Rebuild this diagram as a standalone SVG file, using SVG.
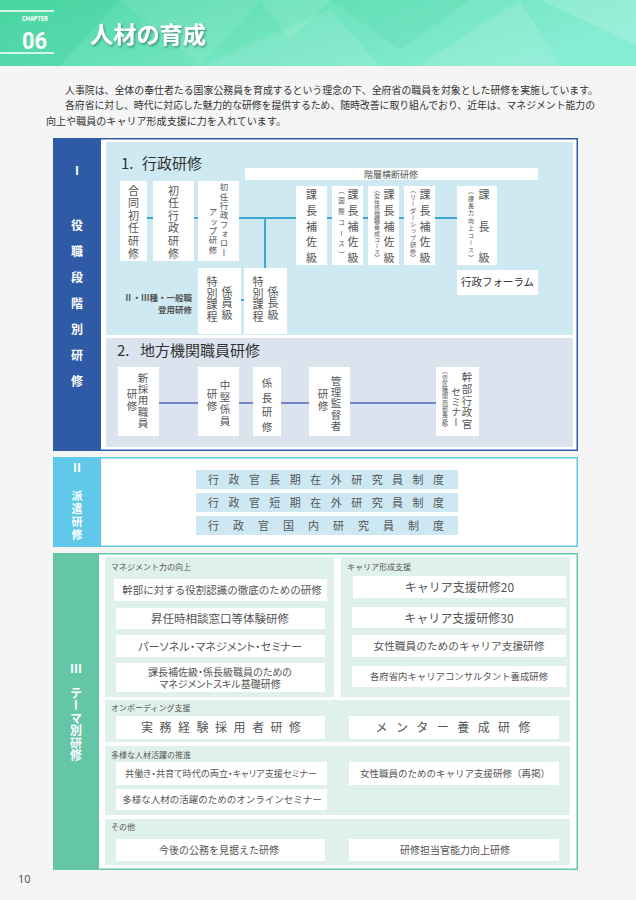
<svg xmlns="http://www.w3.org/2000/svg" width="636" height="900" viewBox="0 0 636 900">
<defs>
<linearGradient id="hg" x1="0" y1="0" x2="1" y2="0.3">
<stop offset="0" stop-color="#4fd8a6"/>
<stop offset="0.5" stop-color="#6de3bd"/>
<stop offset="1" stop-color="#86ecd2"/>
</linearGradient>
<filter id="sh" x="-10%" y="-20%" width="130%" height="150%">
<feDropShadow dx="1.2" dy="1.5" stdDeviation="0.8" flood-color="#1e5a48" flood-opacity="0.6"/>
</filter>
</defs>
<style>
text{font-family:"Noto Sans CJK JP","Noto Sans",sans-serif;fill:#555;}
.v{writing-mode:vertical-rl;}
.w{fill:#fff;}
.bar{fill:#fff;font-size:12px;font-weight:bold;text-anchor:middle;}
.box{fill:#fff;}
.h{font-size:15px;fill:#333;}
.lab{font-size:8px;fill:#555;}
.m{text-anchor:middle;}
.p{font-feature-settings:"palt";}
.c1{stroke:#3ea9d7;stroke-width:2;fill:none;}
.c2{stroke:#7284c8;stroke-width:2;fill:none;}
</style>
<rect x="0" y="0" width="636" height="900" fill="#f5f5f5"/>
<g id="header">
<rect x="0" y="0" width="636" height="66" fill="url(#hg)"/>
<polygon points="0,0 120,0 60,66 0,66" fill="#3fcf9c" opacity="0.35"/>
<polygon points="120,0 260,0 200,66" fill="#ffffff" opacity="0.08"/>
<polygon points="200,66 330,10 380,66" fill="#ffffff" opacity="0.1"/>
<polygon points="330,0 470,0 400,50" fill="#3fcf9c" opacity="0.15"/>
<polygon points="420,66 520,0 560,66" fill="#ffffff" opacity="0.12"/>
<polygon points="540,0 636,0 636,45" fill="#ffffff" opacity="0.15"/>
<polygon points="260,0 330,0 290,40" fill="#ffffff" opacity="0.1"/>
<line x1="0" y1="11" x2="54" y2="11" stroke="#fff" stroke-width="1.5"/>
<line x1="0" y1="53" x2="54" y2="53" stroke="#fff" stroke-width="1.5"/>
<text x="22" y="21" class="w" style="font-family:Roboto,sans-serif;font-size:7.5px;font-weight:bold" textLength="26" lengthAdjust="spacingAndGlyphs">CHAPTER</text>
<text x="22" y="48.5" class="w" style="font-family:Roboto,sans-serif;font-size:24px;font-weight:bold" textLength="25" lengthAdjust="spacingAndGlyphs">06</text>
<text x="90" y="43" class="w" filter="url(#sh)" style="font-size:23px;font-weight:bold" textLength="116" lengthAdjust="spacingAndGlyphs">人材の育成</text>
</g>
<g id="intro" style="font-size:10px">
<text x="65" y="94" style="fill:#333" textLength="533" lengthAdjust="spacingAndGlyphs">人事院は、全体の奉仕者たる国家公務員を育成するという理念の下、全府省の職員を対象とした研修を実施しています。</text>
<text x="65" y="109" style="fill:#333" textLength="530" lengthAdjust="spacingAndGlyphs">各府省に対し、時代に対応した魅力的な研修を提供するため、随時改善に取り組んでおり、近年は、マネジメント能力の</text>
<text x="46" y="125" style="fill:#333" textLength="240" lengthAdjust="spacingAndGlyphs">向上や職員のキャリア形成支援に力を入れています。</text>
</g>
<g id="section1">
<rect x="53.75" y="138.75" width="523.5" height="311.5" fill="#fff" stroke="#2f5aa6" stroke-width="1.5"/>
<rect x="53" y="138" width="48" height="313" fill="#2f5aa6"/>
<text x="77" y="175" class="bar">Ⅰ</text>
<text x="77" y="230" class="bar">役</text>
<text x="77" y="256" class="bar">職</text>
<text x="77" y="282" class="bar">段</text>
<text x="77" y="308" class="bar">階</text>
<text x="77" y="334" class="bar">別</text>
<text x="77" y="360" class="bar">研</text>
<text x="77" y="386" class="bar">修</text>
<rect x="106" y="142" width="467" height="193" fill="#cee9f1"/>
<rect x="106" y="338" width="467" height="109" fill="#dae3ee"/>
<text x="121" y="169" class="h">1.<tspan x="142">行政研修</tspan></text>
<text x="117" y="356" class="h">2.<tspan x="140">地方機関職員研修</tspan></text>
</g>
<g id="n-kaisou">
<rect x="245" y="168" width="293" height="12" class="box"/>
<text x="391" y="177.5" class="m" style="font-size:9px">階層横断研修</text>
</g>
<g id="connectors">
<line x1="147" y1="218" x2="153" y2="218" class="c1"/>
<line x1="194" y1="218" x2="198" y2="218" class="c1"/>
<line x1="239" y1="218" x2="296" y2="218" class="c1"/>
<line x1="265" y1="218" x2="265" y2="268" class="c1"/>
<line x1="241" y1="300" x2="244" y2="300" class="c1"/>
<line x1="327" y1="218" x2="332" y2="218" class="c1"/>
<line x1="363" y1="218" x2="368" y2="218" class="c1"/>
<line x1="399" y1="218" x2="404" y2="218" class="c1"/>
<line x1="435" y1="218" x2="457" y2="218" class="c1"/>
<line x1="159" y1="403" x2="198" y2="403" class="c2"/>
<line x1="239" y1="403" x2="253" y2="403" class="c2"/>
<line x1="281" y1="403" x2="309" y2="403" class="c2"/>
<line x1="350" y1="403" x2="436" y2="403" class="c2"/>
</g>
<g id="n-goudou">
<rect x="120" y="181" width="27" height="80" class="box"/>
<text x="133.5" y="185" class="v" style="font-size:11px;letter-spacing:1.6px">合同初任研修</text>
</g>
<g id="n-shonin">
<rect x="153" y="181" width="41" height="80" class="box"/>
<text x="173.5" y="185" class="v" style="font-size:11px;letter-spacing:1.6px">初任行政研修</text>
</g>
<g id="n-follow">
<rect x="198" y="181" width="41" height="80" class="box"/>
<text x="224" y="183" class="v" style="font-size:8.5px;letter-spacing:0.8px">初任行政フォロー</text>
<text x="213" y="208" class="v" style="font-size:8.5px;letter-spacing:0.8px">アップ研修</text>
</g>
<g id="n-kakariin">
<rect x="198" y="268" width="43" height="66" class="box"/>
<text x="227" y="286" class="v" style="font-size:11px;letter-spacing:0.5px">係員級</text>
<text x="212" y="276.5" class="v" style="font-size:11px;letter-spacing:0.5px">特別課程</text>
</g>
<g id="n-kakaricho">
<rect x="244" y="268" width="43" height="66" class="box"/>
<text x="273" y="286" class="v" style="font-size:11px;letter-spacing:0.5px">係長級</text>
<text x="258" y="276.5" class="v" style="font-size:11px;letter-spacing:0.5px">特別課程</text>
</g>
<g id="n-toyo">
<text x="192" y="301" style="font-size:8.5px;font-weight:bold;text-anchor:end">Ⅱ・Ⅲ種・一般職</text>
<text x="192" y="313" style="font-size:8.5px;font-weight:bold;text-anchor:end">登用研修</text>
</g>
<g id="n-hosa1">
<rect x="296" y="186" width="31" height="79" class="box"/>
<text x="311.5" y="189.5" class="v" style="font-size:11px;letter-spacing:4.7px">課長補佐級</text>
</g>
<g id="n-hosa2">
<rect x="332" y="186" width="31" height="79" class="box"/>
<text x="353" y="189.5" class="v" style="font-size:11px;letter-spacing:4.7px">課長補佐級</text>
<text x="341.5" y="187" class="v" style="font-size:6.5px;letter-spacing:4.2px">（国際コース）</text>
</g>
<g id="n-hosa3">
<rect x="368" y="186" width="31" height="79" class="box"/>
<text x="389" y="189.5" class="v" style="font-size:11px;letter-spacing:4.7px">課長補佐級</text>
<text x="377" y="187" class="v" style="font-size:6px;letter-spacing:0.2px">（女性管理職養成コース）</text>
</g>
<g id="n-hosa4">
<rect x="404" y="186" width="31" height="79" class="box"/>
<text x="425" y="189.5" class="v" style="font-size:11px;letter-spacing:4.7px">課長補佐級</text>
<text x="413" y="187" class="v" style="font-size:6.2px;letter-spacing:0.6px">（リーダーシップ研修）</text>
</g>
<g id="n-kacho">
<rect x="457" y="186" width="40" height="79" class="box"/>
<text x="484" y="189.5" class="v" style="font-size:11px;letter-spacing:20.5px">課長級</text>
<text x="471" y="188" class="v" style="font-size:6px;letter-spacing:1.4px">（課長力向上コース）</text>
</g>
<g id="n-forum">
<rect x="457" y="270" width="81" height="25" class="box"/>
<text x="497.5" y="286" class="m" style="font-size:10.5px;fill:#333">行政フォーラム</text>
</g>
<g id="n-shinsai">
<rect x="118" y="367" width="41" height="69" class="box"/>
<text x="143" y="372.5" class="v" style="font-size:10.5px;letter-spacing:0.8px">新採用職員</text>
<text x="132" y="389" class="v" style="font-size:10.5px;letter-spacing:0.8px">研修</text>
</g>
<g id="n-chuken">
<rect x="198" y="367" width="41" height="69" class="box"/>
<text x="225" y="379.5" class="v" style="font-size:10.5px;letter-spacing:1.5px">中堅係員</text>
<text x="212" y="389" class="v" style="font-size:10.5px;letter-spacing:0.8px">研修</text>
</g>
<g id="n-kakaricho2">
<rect x="253" y="367" width="28" height="69" class="box"/>
<text x="267" y="378" class="v" style="font-size:10.5px;letter-spacing:4px">係長研修</text>
</g>
<g id="n-kanri">
<rect x="309" y="367" width="41" height="69" class="box"/>
<text x="336" y="375.5" class="v" style="font-size:10.5px;letter-spacing:0.8px">管理監督者</text>
<text x="323" y="389" class="v" style="font-size:10.5px;letter-spacing:0.8px">研修</text>
</g>
<g id="n-kanbu">
<rect x="436" y="367" width="43" height="69" class="box"/>
<text x="467" y="372" class="v" style="font-size:10.5px;letter-spacing:1.2px">幹部行政官</text>
<text x="456" y="387" class="v" style="font-size:10px;letter-spacing:0px">セミナー</text>
<text x="445" y="368" class="v" style="font-size:6px;letter-spacing:0.3px">（管区機関局部長級）</text>
</g>
<g id="section2">
<rect x="53.75" y="457.75" width="523.5" height="88.5" fill="#fff" stroke="#60c8e8" stroke-width="1.5"/>
<rect x="53" y="457" width="48" height="90" fill="#60c8e8"/>
<text x="77" y="472" class="bar">Ⅱ</text>
<text x="77" y="490" class="v" style="fill:#fff;font-size:11px;font-weight:bold;letter-spacing:2px">派遣研修</text>
</g>
<g id="n-chouki">
<rect x="196" y="470" width="262" height="19" fill="#cde8f2"/>
<text x="208" y="483.5" style="font-size:11px" textLength="236" lengthAdjust="spacing">行政官長期在外研究員制度</text>
</g>
<g id="n-tanki">
<rect x="196" y="493" width="262" height="19" fill="#cde8f2"/>
<text x="208" y="506.5" style="font-size:11px" textLength="236" lengthAdjust="spacing">行政官短期在外研究員制度</text>
</g>
<g id="n-kokunai">
<rect x="196" y="516" width="262" height="19" fill="#cde8f2"/>
<text x="208" y="529.5" style="font-size:11px" textLength="236" lengthAdjust="spacing">行政官国内研究員制度</text>
</g>
<g id="section3">
<rect x="53.75" y="553.75" width="523.5" height="315.5" fill="#fff" stroke="#64c6a6" stroke-width="1.5"/>
<rect x="53" y="553" width="46" height="317" fill="#64c6a6"/>
<text x="76" y="673" class="bar">Ⅲ</text>
<text x="76" y="687" class="v" style="fill:#fff;font-size:12px;font-weight:bold;letter-spacing:0.5px">テーマ別研修</text>
<rect x="105" y="557" width="229" height="140" fill="#e0f0eb"/>
<rect x="341" y="557" width="229" height="140" fill="#e0f0eb"/>
<rect x="105" y="700" width="465" height="42" fill="#e0f0eb"/>
<rect x="105" y="746" width="465" height="69" fill="#e0f0eb"/>
<rect x="105" y="819" width="465" height="46" fill="#e0f0eb"/>
<text x="111" y="570" class="lab">マネジメント力の向上</text>
<text x="347" y="570" class="lab">キャリア形成支援</text>
<text x="111" y="711" class="lab">オンボーディング支援</text>
<text x="111" y="758" class="lab">多様な人材活躍の推進</text>
<text x="111" y="830" class="lab">その他</text>
</g>
<g id="n-kanbuyakuwari">
<rect x="114" y="579" width="213" height="22" class="box"/>
<text x="222" y="594" class="m" style="font-size:10.5px">幹部に対する役割認識の徹底のための研修</text>
</g>
<g id="n-shonin-soudan">
<rect x="116" y="608" width="209" height="21" class="box"/>
<text x="220" y="623" class="m" style="font-size:11.5px">昇任時相談窓口等体験研修</text>
</g>
<g id="n-personnel">
<rect x="116" y="635" width="209" height="22" class="box"/>
<text x="220" y="650.5" class="m p" style="font-size:11px" textLength="164" lengthAdjust="spacingAndGlyphs">パーソネル・マネジメント・セミナー</text>
</g>
<g id="n-skill">
<rect x="116" y="663" width="209" height="29" class="box"/>
<text class="m p" style="font-size:10px"><tspan x="220" y="675.5">課長補佐級・係長級職員のための</tspan><tspan x="220" y="688">マネジメントスキル基礎研修</tspan></text>
</g>
<g id="n-career20">
<rect x="353" y="576" width="213" height="22" class="box"/>
<text x="459.5" y="592" class="m" style="font-size:12px">キャリア支援研修20</text>
</g>
<g id="n-career30">
<rect x="352" y="607" width="214" height="21" class="box"/>
<text x="459" y="622.5" class="m" style="font-size:12px">キャリア支援研修30</text>
</g>
<g id="n-josei">
<rect x="352" y="635" width="214" height="22" class="box"/>
<text x="459" y="650" class="m" style="font-size:10.7px">女性職員のためのキャリア支援研修</text>
</g>
<g id="n-consul">
<rect x="352" y="666" width="214" height="21" class="box"/>
<text x="459" y="680" class="m" style="font-size:9.4px">各府省内キャリアコンサルタント養成研修</text>
</g>
<g id="n-jitsumu">
<rect x="116" y="716" width="209" height="23" class="box"/>
<text x="221" y="732" class="m" style="font-size:12px" textLength="160" lengthAdjust="spacing">実務経験採用者研修</text>
</g>
<g id="n-mentor">
<rect x="349" y="716" width="210" height="23" class="box"/>
<text x="453" y="732" class="m" style="font-size:12px" textLength="155" lengthAdjust="spacing">メンター養成研修</text>
</g>
<g id="n-tomobataraki">
<rect x="116" y="762" width="211" height="23" class="box"/>
<text x="221" y="776.5" class="m p" style="font-size:8.8px" textLength="192" lengthAdjust="spacingAndGlyphs">共働き・共育て時代の両立・キャリア支援セミナー</text>
</g>
<g id="n-online">
<rect x="116" y="789" width="211" height="21" class="box"/>
<text x="222" y="803" class="m" style="font-size:9.5px">多様な人材の活躍のためのオンラインセミナー</text>
</g>
<g id="n-josei2">
<rect x="349" y="762" width="210" height="23" class="box"/>
<text x="455" y="777" class="m" style="font-size:9.5px">女性職員のためのキャリア支援研修（再掲）</text>
</g>
<g id="n-kongo">
<rect x="116" y="839" width="209" height="22" class="box"/>
<text x="219" y="854" class="m" style="font-size:10px">今後の公務を見据えた研修</text>
</g>
<g id="n-tantou">
<rect x="349" y="839" width="210" height="22" class="box"/>
<text x="455" y="854" class="m" style="font-size:10px">研修担当官能力向上研修</text>
</g>
<g id="footer">
<text x="18" y="883" style="font-size:11px;font-family:'Noto Sans',sans-serif">10</text>
</g>
</svg>
